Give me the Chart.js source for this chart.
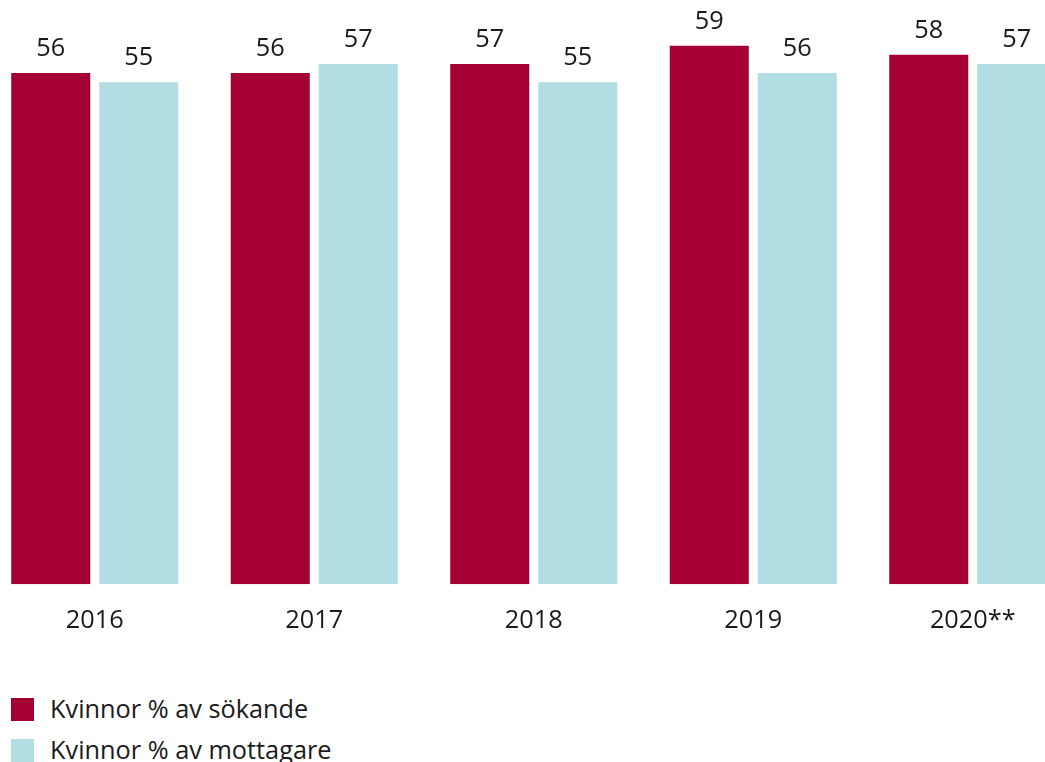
<!DOCTYPE html>
<html>
<head>
<meta charset="utf-8">
<script src="https://cdn.jsdelivr.net/npm/chart.js@4/dist/chart.umd.min.js"></script>
<style>
  html, body { margin: 0; padding: 0; background: #fff; overflow: hidden; width: 1045px; height: 762px; }
  #wrap { position: absolute; left: -15.25px; top: 0; width: 1097.5px; height: 658.2px; }
  #legend { position: absolute; left: 11px; top: 698px; font-family: "Open Sans", sans-serif; font-size: 25.3px; color: #1a1a1a; }
  .item { position: relative; height: 41px; }
  .sw { position: absolute; left: 0; top: 0; width: 23px; height: 23px; }
  .lbl { position: absolute; left: 39px; top: -7px; line-height: 35px; white-space: nowrap; }
</style>
</head>
<body>
<div id="wrap"><canvas id="c"></canvas></div>
<div id="legend"></div>
<script>
const categories = ["2016", "2017", "2018", "2019", "2020**"];
const seriesNames = ["Kvinnor % av sökande", "Kvinnor % av mottagare"];
const sokande = [56, 56, 57, 59, 58];
const mottagare = [55, 57, 55, 56, 57];
const colors = ["#A50034", "#B2DDE2"];

const valueLabels = {
  id: 'valueLabels',
  afterDatasetsDraw(chart) {
    const ctx = chart.ctx;
    ctx.save();
    ctx.font = '25.3px "Open Sans"';
    ctx.fillStyle = '#1a1a1a';
    ctx.textAlign = 'center';
    ctx.textBaseline = 'middle';
    chart.data.datasets.forEach((ds, i) => {
      chart.getDatasetMeta(i).data.forEach((bar, j) => {
        ctx.fillText(String(ds.data[j]), bar.x, bar.y - 24);
      });
    });
    ctx.restore();
  }
};

new Chart(document.getElementById('c'), {
  type: 'bar',
  data: {
    labels: categories,
    datasets: [
      { label: seriesNames[0], data: sokande, backgroundColor: colors[0] },
      { label: seriesNames[1], data: mottagare, backgroundColor: colors[1] }
    ]
  },
  options: {
    responsive: true,
    maintainAspectRatio: false,
    animation: false,
    devicePixelRatio: 1,
    layout: { padding: 0 },
    categoryPercentage: 0.8018,
    barPercentage: 0.898,
    plugins: { legend: { display: false }, tooltip: { enabled: false } },
    scales: {
      x: {
        grid: { display: false, drawTicks: false, tickLength: 0 },
        border: { display: false },
        ticks: { color: '#1a1a1a', font: { family: 'Open Sans', size: 25.3 }, padding: 21.8, autoSkip: false, maxRotation: 0 }
      },
      y: { display: false, min: 0, max: 64 }
    }
  },
  plugins: [valueLabels]
});

const lg = document.getElementById('legend');
seriesNames.forEach((n, i) => {
  const d = document.createElement('div');
  d.className = 'item';
  d.innerHTML = '<span class="sw" style="background:' + colors[i] + '"></span><span class="lbl">' + n + '</span>';
  lg.appendChild(d);
});
</script>
</body>
</html>
